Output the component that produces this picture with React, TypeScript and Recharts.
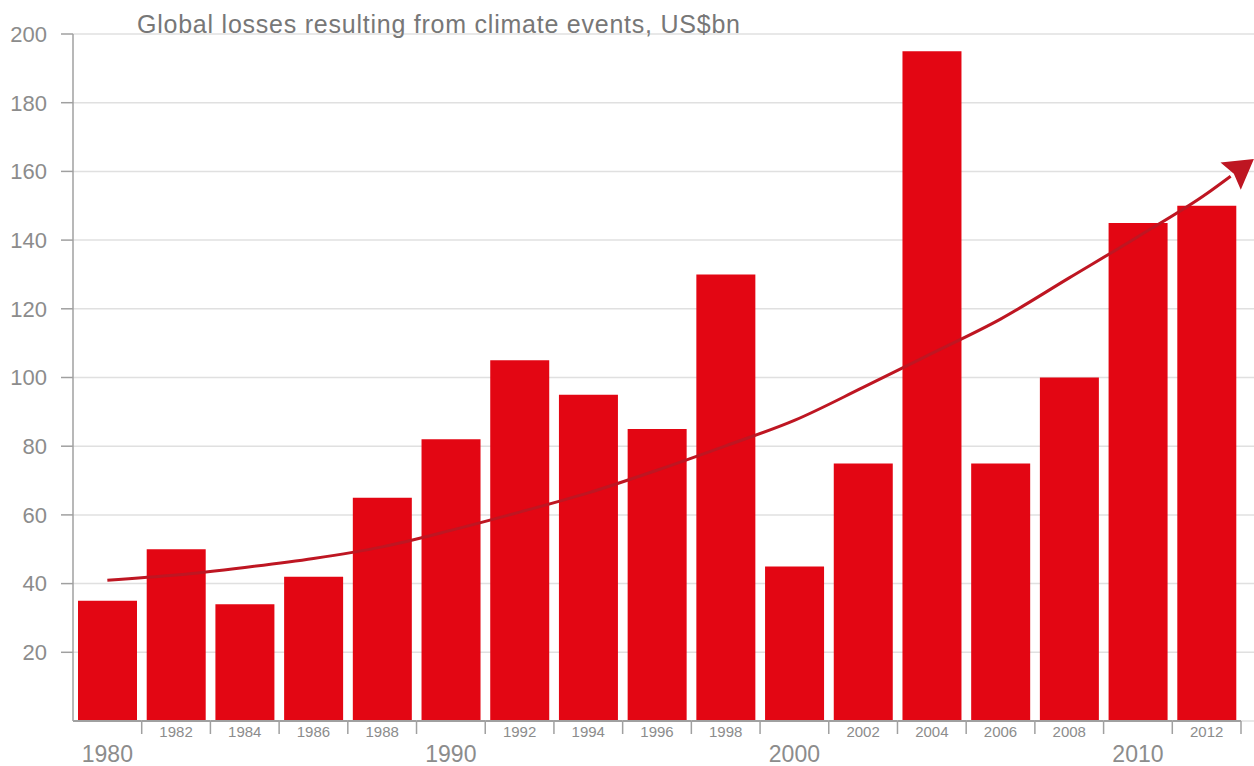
import React from 'react';
import { ComposedChart, Bar, Line, XAxis, YAxis, CartesianGrid } from 'recharts';

// Losses per two-year step, US$bn
const years = [
  '1980', '1982', '1984', '1986', '1988', '1990', '1992', '1994', '1996',
  '1998', '2000', '2002', '2004', '2006', '2008', '2010', '2012',
];
const losses = [35, 50, 34, 42, 65, 82, 105, 95, 85, 130, 45, 75, 195, 75, 100, 145, 150];

// Trend curve (ends a little past 2012 where the arrow head sits)
const trendYears = [
  1980, 1982, 1984, 1986, 1988, 1990, 1992, 1994, 1996,
  1998, 2000, 2002, 2004, 2006, 2008, 2010, 2012, 2012.7,
];
const trendValues = [
  41, 42.5, 44.7, 47.3, 50.7, 55.5, 60.8, 66.4, 73,
  80.1, 87.5, 97.1, 107, 117, 129, 141, 153.5, 158.6,
];

const yTicks = [20, 40, 60, 80, 100, 120, 140, 160, 180, 200];
const title = 'Global losses resulting from climate events, US$bn';

const barData = years.map((year, i) => ({ year, loss: losses[i] }));
const trendData = trendYears.map((year, i) => ({ year, value: trendValues[i] }));

const W = 1254;
const H = 766;
const FONT = '"Liberation Sans", Arial, sans-serif';
const AXIS_GREY = '#a0a0a0';
const TEXT_GREY = '#8c8c8c';
const TREND_RED = '#be1622';

// bottom axis: baseline per slot, tick at slot edge, big labels for decades
const YearTick = (props: any) => {
  const { x, y, payload } = props;
  const half = payload?.offset || 34.35;
  const decade = Number(payload.value) % 10 === 0;
  return (
    <g>
      <line x1={x - half} x2={x + half} y1={y} y2={y} stroke={AXIS_GREY} strokeWidth={2} />
      <line x1={x + half} x2={x + half} y1={y} y2={y + 13} stroke={AXIS_GREY} strokeWidth={1.5} />
      <text
        x={x}
        y={decade ? y + 41 : y + 15.5}
        textAnchor="middle"
        fontSize={decade ? 23 : 15}
        fontFamily={FONT}
        fill={TEXT_GREY}
      >
        {payload.value}
      </text>
    </g>
  );
};

// arrow head drawn on the last point of the trend line
const renderArrowHead = (props: any) => {
  const { cx, cy, index } = props;
  if (index !== trendData.length - 1 || cx == null || cy == null) {
    return <g key={`tp-${index}`} />;
  }
  const a = -0.64;
  const ux = Math.cos(a);
  const uy = Math.sin(a);
  const nx = -uy;
  const ny = ux;
  const pt = (t: number, s: number) => `${cx + t * ux + s * nx},${cy + t * uy + s * ny}`;
  const pts = [pt(29, 0), pt(0, 17), pt(4, 0), pt(0, -17)].join(' ');
  return <polygon key="arrow-head" points={pts} fill={TREND_RED} />;
};

const App = () => {
  return (
    <div style={{ position: 'absolute', left: 0, top: 0, width: W, height: H, background: '#fff' }}>
      <ComposedChart
        width={W}
        height={H}
        data={barData}
        margin={{ top: 34, right: 0, bottom: 0, left: 0 }}
      >
        <CartesianGrid xAxisId="bars" vertical={false} stroke="#e0e0e0" strokeWidth={1.5} />
        <XAxis
          xAxisId="bars"
          dataKey="year"
          type="category"
          height={45}
          padding={{ left: 0, right: 13 }}
          axisLine={false}
          tickLine={false}
          tickSize={0}
          tickMargin={0}
          interval={0}
          tick={<YearTick />}
        />
        <XAxis xAxisId="trend" dataKey="year" type="number" domain={[1979, 2013.38]} hide />
        <YAxis
          domain={[0, 200]}
          ticks={yTicks}
          interval={0}
          width={73}
          tickSize={12}
          tickMargin={14}
          axisLine={{ stroke: AXIS_GREY, strokeWidth: 1.5 }}
          tickLine={{ stroke: AXIS_GREY, strokeWidth: 1.5 }}
          tick={{ fill: TEXT_GREY, fontSize: 22, fontFamily: FONT }}
        />
        <Bar xAxisId="bars" dataKey="loss" fill="#e30613" barSize={59} isAnimationActive={false} />
        <Line
          xAxisId="trend"
          data={trendData}
          dataKey="value"
          type="monotone"
          stroke={TREND_RED}
          strokeWidth={3}
          dot={renderArrowHead}
          activeDot={false}
          isAnimationActive={false}
        />
      </ComposedChart>
      <svg
        width={W}
        height={60}
        style={{ position: 'absolute', left: 0, top: 0, pointerEvents: 'none' }}
      >
        <text
          x={137}
          y={33}
          fontSize={25}
          fontFamily={FONT}
          fill="#777"
          textLength={603}
          lengthAdjust="spacing"
        >
          {title}
        </text>
      </svg>
    </div>
  );
};

export default App;
